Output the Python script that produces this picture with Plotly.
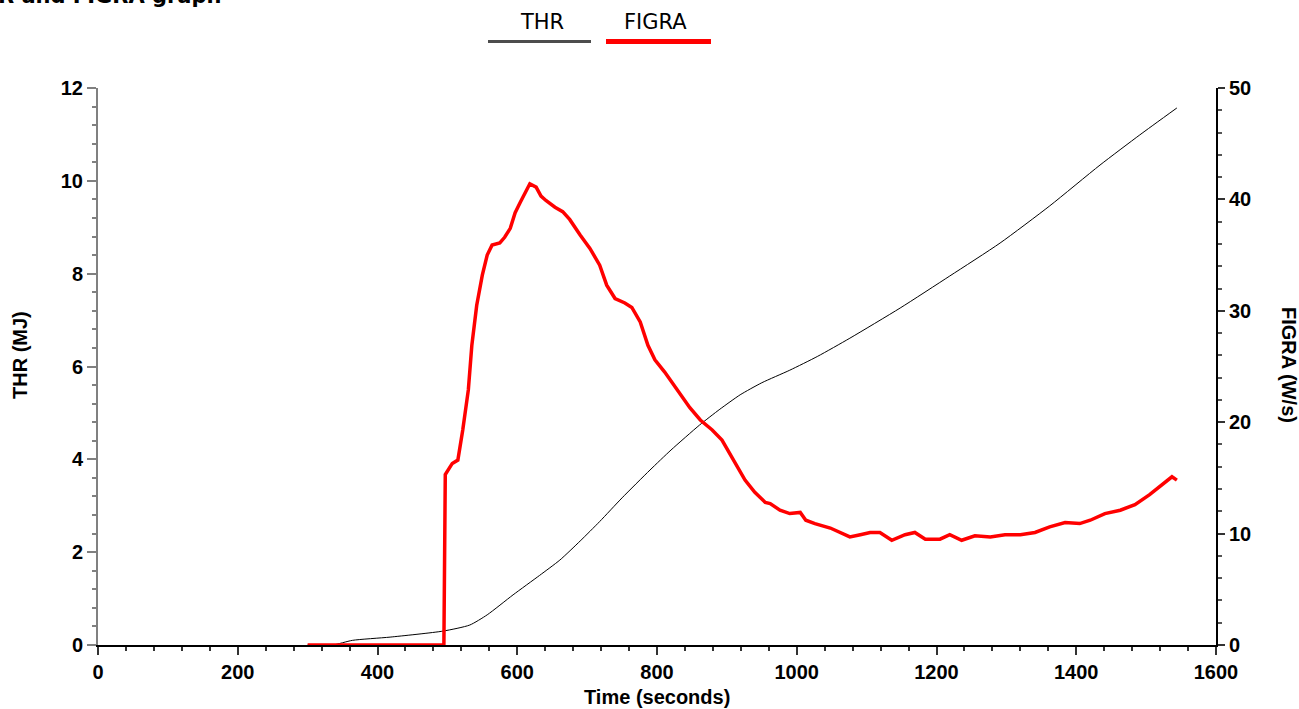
import plotly.graph_objects as go

# ---- data ----
thr_time = [300, 336, 364, 418, 494, 532, 557, 594, 632, 661, 690, 718, 750, 790, 820, 861,
            890, 919, 950, 990, 1030, 1076, 1148, 1219, 1291, 1362, 1434, 1491, 1544]
thr_mj = [0.0, 0.0, 0.1, 0.17, 0.3, 0.43, 0.65, 1.08, 1.5, 1.83, 2.24, 2.66, 3.17, 3.77, 4.2,
          4.74, 5.08, 5.39, 5.65, 5.92, 6.22, 6.61, 7.26, 7.95, 8.66, 9.46, 10.34, 10.99, 11.57]

figra_time = [300, 495, 497, 507, 515, 522, 530, 535, 542, 550, 557, 564, 575, 582, 590, 597,
              604, 611, 618, 627, 634, 641, 654, 665, 675, 690, 704, 718, 728, 740, 754, 764,
              776, 787, 797, 811, 826, 847, 862, 879, 893, 912, 926, 940, 955, 962, 976, 990,
              1005, 1013, 1026, 1048, 1062, 1076, 1091, 1105, 1119, 1136, 1155, 1169, 1184,
              1205, 1219, 1236, 1255, 1277, 1298, 1320, 1341, 1362, 1384, 1405, 1420, 1441,
              1463, 1484, 1505, 1523, 1537, 1544]
figra_ws = [0, 0, 15.3, 16.3, 16.6, 19.3, 22.9, 26.9, 30.5, 33.2, 35.0, 35.9, 36.1, 36.6, 37.4,
            38.8, 39.7, 40.6, 41.4, 41.1, 40.3, 39.9, 39.3, 38.9, 38.2, 36.8, 35.6, 34.1, 32.3,
            31.1, 30.7, 30.3, 29.0, 26.9, 25.6, 24.5, 23.2, 21.3, 20.2, 19.3, 18.4, 16.4, 14.8,
            13.7, 12.8, 12.7, 12.1, 11.8, 11.9, 11.2, 10.9, 10.5, 10.1, 9.7, 9.9, 10.1, 10.1,
            9.4, 9.9, 10.1, 9.5, 9.5, 9.9, 9.4, 9.8, 9.7, 9.9, 9.9, 10.1, 10.6, 11.0, 10.9,
            11.2, 11.8, 12.1, 12.6, 13.5, 14.4, 15.1, 14.8]

title_text = "THR and FIGRA graph"
x_title = "Time (seconds)"
y_title = "THR (MJ)"
y2_title = "FIGRA (W/s)"
legend_names = ["THR", "FIGRA"]

# ---- layout geometry (pixels) ----
W, H = 1299, 709
L, R, T, B = 98, 1216, 88, 645


def px(p):
    return (p - L) / (R - L)


def py(p):
    return (B - p) / (B - T)


fig = go.Figure()
fig.add_trace(go.Scatter(x=thr_time, y=thr_mj, mode="lines", name=legend_names[0],
                         line=dict(color="black", width=1, shape="spline", smoothing=0.6),
                         showlegend=False))
fig.add_trace(go.Scatter(x=figra_time, y=figra_ws, mode="lines", name=legend_names[1],
                         yaxis="y2", line=dict(color="#ff0000", width=3.5),
                         showlegend=False))

tickfont = dict(family="Liberation Sans, Arial, sans-serif", size=20, color="black", weight="bold")

fig.update_layout(
    width=W, height=H,
    margin=dict(l=L, r=W - R, t=T, b=H - B, pad=0),
    paper_bgcolor="white", plot_bgcolor="white",
    showlegend=False,
    xaxis=dict(range=[0, 1600], dtick=200, tick0=0, showgrid=False, zeroline=False,
               showline=True, linecolor="black", linewidth=2,
               ticks="outside", ticklen=8, tickwidth=1.5, tickcolor="#333333",
               tickfont=tickfont,
               minor=dict(dtick=40, ticks="outside", ticklen=4, tickcolor="#333333",
                          tickwidth=1.5, showgrid=False)),
    yaxis=dict(range=[0, 12], dtick=2, tick0=0, showgrid=False, zeroline=False,
               showline=True, linecolor="#808080", linewidth=2,
               ticks="outside", ticklen=9, tickwidth=1.5, tickcolor="#808080",
               tickfont=tickfont,
               minor=dict(dtick=0.4, ticks="outside", ticklen=4, tickcolor="#808080",
                          tickwidth=1.5, showgrid=False)),
    yaxis2=dict(range=[0, 50], dtick=10, tick0=0, overlaying="y", side="right",
                showgrid=False, zeroline=False,
                showline=True, linecolor="black", linewidth=2,
                ticks="outside", ticklen=7, tickwidth=1.5, tickcolor="#333333",
                tickfont=tickfont,
                minor=dict(dtick=2, ticks="outside", ticklen=4, tickcolor="#555555",
                           tickwidth=1.5, showgrid=False)),
)

bold20 = dict(family="Liberation Sans, Arial, sans-serif", size=20, color="black", weight="bold")
annotations = [
    dict(text=title_text, xref="paper", yref="paper", x=px(224), y=py(10),
         xanchor="right", yanchor="bottom", showarrow=False,
         font=dict(family="DejaVu Sans, sans-serif", size=21, color="black", weight="bold")),
    dict(text=x_title, xref="paper", yref="paper", x=px(657), y=py(697),
         xanchor="center", yanchor="middle", showarrow=False, font=bold20),
    dict(text=y_title, xref="paper", yref="paper", x=px(20), y=py(355),
         xanchor="center", yanchor="middle", textangle=-90, showarrow=False, font=bold20),
    dict(text=y2_title, xref="paper", yref="paper", x=px(1289), y=py(365),
         xanchor="center", yanchor="middle", textangle=90, showarrow=False, font=bold20),
    dict(text=legend_names[0], xref="paper", yref="paper", x=px(542), y=py(22),
         xanchor="center", yanchor="middle", showarrow=False,
         font=dict(family="DejaVu Sans, sans-serif", size=21, color="black")),
    dict(text=legend_names[1], xref="paper", yref="paper", x=px(655.5), y=py(22),
         xanchor="center", yanchor="middle", showarrow=False,
         font=dict(family="DejaVu Sans, sans-serif", size=21, color="black")),
]
fig.update_layout(annotations=annotations)

fig.add_shape(type="line", xref="paper", yref="paper", x0=px(488), x1=px(591),
              y0=py(41.5), y1=py(41.5), line=dict(color="#4d4d4d", width=3))
fig.add_shape(type="line", xref="paper", yref="paper", x0=px(606), x1=px(711),
              y0=py(41.5), y1=py(41.5), line=dict(color="#ff0000", width=5))

fig.write_html("out.html", config={"displayModeBar": False},
               post_script="document.body.style.margin='0';document.body.style.overflow='hidden';")
